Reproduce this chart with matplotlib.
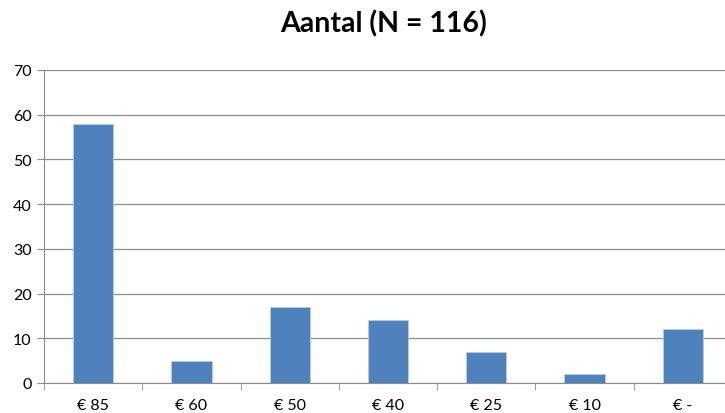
import numpy as np
import matplotlib.pyplot as plt

categories = ['€ 85', '€ 60', '€ 50', '€ 40', '€ 25', '€ 10', '€ -']
values = [58, 5, 17, 14, 7, 2, 12]

plt.rcParams['font.family'] = ['Lato', 'DejaVu Sans']

fig = plt.figure(figsize=(7.25, 4.14), dpi=100)
# plot area runs slightly past the right edge, as in the reference
ax = fig.add_axes([44 / 725, 1 - 384 / 414, 688 / 725, 313 / 414])

x = np.arange(len(categories))
ax.bar(x, values, width=0.41, color='#4f81bd', edgecolor='#b9cde5', linewidth=0.6, zorder=3)

ax.set_xlim(-0.5, len(categories) - 0.5)
ax.set_ylim(0, 70)
ax.set_yticks(range(0, 71, 10))
ax.grid(axis='y', color='#8c8c8c', linewidth=0.9, zorder=0)

ax.set_xticks(x)
ax.set_xticklabels(categories, fontsize=11.5)
ax.set_xticks(np.arange(len(categories) + 1) - 0.5, minor=True)
ax.tick_params(axis='x', which='major', length=0, pad=11)
ax.tick_params(axis='x', which='minor', length=5, color='#8c8c8c')
ax.tick_params(axis='y', length=5, color='#8c8c8c', labelsize=11.5, pad=4)

for s in ['top', 'right']:
    ax.spines[s].set_visible(False)
for s in ['left', 'bottom']:
    ax.spines[s].set_color('#8c8c8c')

fig.text(384 / 725, 1 - 24 / 414, 'Aantal (N = 116)', ha='center', va='center',
         fontsize=20.5, fontweight='bold')

fig.savefig('out.png', dpi=100)
